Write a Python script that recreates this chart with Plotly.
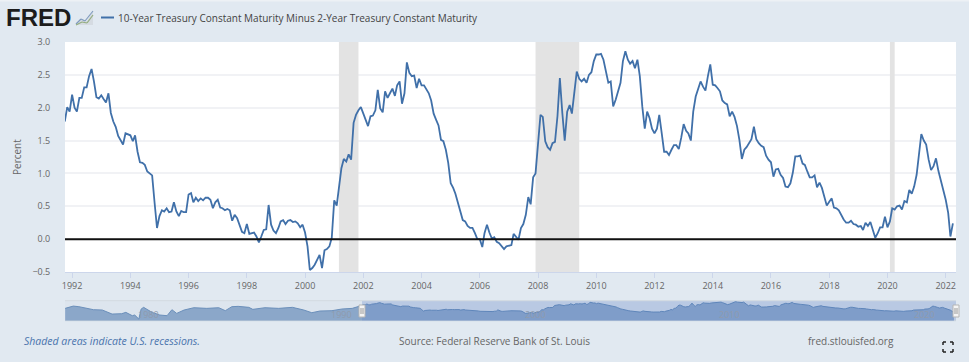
import pandas as pd
import plotly.graph_objects as go

W, H = 969, 362
SPREAD = [
1.79,2.01,1.94,2.20,2.00,1.94,2.15,2.15,2.31,2.31,2.48,2.59,2.40,2.16,2.14,2.19,2.13,2.08,2.22,1.92,
1.79,1.71,1.57,1.51,1.44,1.61,1.59,1.58,1.49,1.58,1.33,1.17,1.16,1.13,1.03,1.00,0.97,0.55,0.17,0.35,
0.44,0.42,0.47,0.41,0.42,0.56,0.42,0.35,0.43,0.41,0.41,0.68,0.70,0.56,0.63,0.58,0.62,0.59,0.63,0.63,
0.60,0.47,0.56,0.60,0.48,0.47,0.44,0.46,0.44,0.28,0.37,0.32,0.21,0.11,0.09,0.23,0.08,0.09,0.10,0.04,
-0.05,0.04,0.14,0.15,0.52,0.22,0.13,0.09,0.17,0.27,0.29,0.23,0.28,0.29,0.26,0.27,0.24,0.18,0.22,0.10,
-0.11,-0.47,-0.44,-0.39,-0.32,-0.24,-0.44,-0.17,-0.15,-0.11,0.02,0.59,0.51,0.80,1.08,1.22,1.18,1.29,
1.21,1.77,1.89,1.96,2.01,1.91,1.82,1.72,1.87,1.88,1.96,2.27,1.99,1.93,2.25,2.15,2.22,2.29,2.18,2.34,
2.40,2.06,2.22,2.69,2.53,2.48,2.49,2.30,2.44,2.34,2.34,2.27,2.22,2.11,1.91,1.82,1.73,1.51,1.49,1.36,
1.16,0.85,0.78,0.69,0.54,0.40,0.29,0.27,0.20,0.17,0.17,0.09,0.00,0.00,-0.12,0.09,0.22,0.10,0.01,0.03,
-0.04,-0.06,-0.10,-0.15,-0.11,-0.10,-0.09,0.08,0.04,-0.01,0.17,0.23,0.37,0.64,0.53,0.94,1.00,1.51,1.89,
1.86,1.49,1.40,1.36,1.46,1.48,1.87,2.45,1.92,1.50,1.94,2.04,1.91,2.27,2.55,2.44,2.40,2.44,2.38,2.50,
2.54,2.71,2.81,2.81,2.82,2.73,2.58,2.38,2.40,2.02,2.12,2.27,2.38,2.71,2.86,2.73,2.67,2.71,2.60,2.73,
2.48,2.02,1.68,1.94,1.84,1.68,1.61,1.68,1.89,1.61,1.33,1.33,1.28,1.36,1.43,1.43,1.37,1.54,1.75,1.65,
1.61,1.50,1.94,2.17,2.30,2.40,2.32,2.26,2.48,2.66,2.35,2.34,2.30,2.25,2.11,2.07,2.05,1.87,1.94,1.86,
1.72,1.51,1.22,1.36,1.40,1.47,1.52,1.71,1.52,1.46,1.42,1.40,1.27,1.21,1.17,0.95,1.06,1.07,0.98,0.93,
0.80,0.79,0.85,1.01,1.26,1.26,1.27,1.15,1.13,1.03,0.94,0.94,0.97,0.79,0.86,0.78,0.65,0.51,0.57,0.62,
0.48,0.47,0.44,0.36,0.30,0.25,0.25,0.28,0.23,0.22,0.19,0.20,0.14,0.25,0.20,0.26,0.14,0.02,0.09,0.18,
0.18,0.34,0.18,0.27,0.47,0.45,0.50,0.51,0.45,0.58,0.56,0.75,0.69,0.80,0.98,1.28,1.60,1.50,1.44,1.21,
1.05,1.11,1.23,1.04,0.90,0.78,0.60,0.40,0.04,0.24,
]
DATES = pd.date_range("1991-10-01", periods=len(SPREAD), freq="MS")

EARLY_DATES = ["1976-06-15","1976-11-15","1977-03-01","1977-08-15","1977-12-01","1978-05-15","1978-11-15","1979-05-15",
"1979-08-01","1979-12-01","1980-01-15","1980-04-01","1980-05-15","1980-07-01","1980-09-15","1980-11-15","1981-01-01",
"1981-05-01","1981-09-15","1981-12-15","1982-03-15","1982-08-01","1983-02-01","1983-10-01","1984-05-15","1984-07-01",
"1984-09-15","1985-01-15","1985-05-15","1985-12-01","1986-02-15","1986-10-01","1987-06-15","1988-03-01","1988-10-01",
"1989-03-01","1989-08-01","1990-03-15","1990-09-15","1991-04-01","1991-10-01"]
EARLY_SPREAD = [0.95,1.60,1.43,0.95,0.57,0.48,-0.67,-0.57,-0.19,-1.14,-0.95,-2.10,0.76,1.24,0.48,0.00,-0.30,-0.95,-1.14,
0.57,-0.48,0.48,1.14,0.95,1.14,0.76,0.29,1.43,1.52,1.24,0.67,1.14,0.95,1.24,0.48,-0.29,0.19,0.29,0.76,0.95,1.79]

REC_STARTS = ["2001-03-01","2007-12-01","2020-02-01"]
REC_ENDS = ["2001-11-01","2009-06-01","2020-04-01"]
NAV_YEARS = ["1980","1990","2000","2010","2020"]
NAV_YEAR_POS = ["1980-10-01","1990-09-15","2000-09-15","2010-09-15","2020-09-15"]

BG = "#e1e9f1"; BLUE = "#4070a9"; TXT = "#666666"; FONT = "Open Sans"
L, R, T, B = 65, 956, 42, 272
NT, NB = 300.7, 320.7
HX = 362
NAV_Y = [-2.57, 3.14]
SEL_START, SEL_END = "1991-10-04", "2022-05-10"
NAV_START = "1976-06-12"

def px(x): return x / W
def py(y): return 1 - y / H

fig = go.Figure()
fig.add_trace(go.Scatter(x=DATES, y=SPREAD, mode="lines", line=dict(color=BLUE, width=1.8), xaxis="x", yaxis="y",
                         showlegend=False, hoverinfo="skip"))
for xs, ys, fill, ln in [(EARLY_DATES, EARLY_SPREAD, "#8ba7c9", "#6b8fba"), (DATES, SPREAD, "#7f9dc9", "#5f86ba")]:
    fig.add_trace(go.Scatter(x=[xs[0], xs[-1]], y=[NAV_Y[0], NAV_Y[0]], mode="lines", line=dict(width=0),
                             xaxis="x2", yaxis="y2", showlegend=False, hoverinfo="skip"))
    fig.add_trace(go.Scatter(x=xs, y=ys, mode="lines", line=dict(color=ln, width=1), fill="tonexty", fillcolor=fill,
                             xaxis="x2", yaxis="y2", showlegend=False, hoverinfo="skip"))

shapes = []
def rect(x0, y0, x1, y1, color, layer="below", line=None):
    shapes.append(dict(type="rect", xref="paper", yref="paper", x0=px(x0), x1=px(x1), y0=py(y0), y1=py(y1),
                       fillcolor=color, line=dict(width=line[1], color=line[0]) if line else dict(width=0), layer=layer))
def seg(x0, y0, x1, y1, color, width=1, layer="above"):
    shapes.append(dict(type="line", xref="paper", yref="paper", x0=px(x0), x1=px(x1), y0=py(y0), y1=py(y1),
                       line=dict(color=color, width=width), layer=layer))

rect(0, 0, W, 1.5, "#edf1f5")
rect(L, T, R, B, "#ffffff")
rect(L, NT, HX, NB, "#dde5ee")
rect(HX, NT, R, NB, "#b9c9e3")
seg(L, NT, R, NT, "#d3d9e0", 1, "below")
seg(L, NB, R, NB, "#c9d2dc", 1, "below")

for s, e in zip(REC_STARTS, REC_ENDS):
    shapes.append(dict(type="rect", xref="x", yref="y", x0=s, x1=e, y0=-0.5, y1=3.0, fillcolor="#e3e3e3",
                       line=dict(width=0), layer="between"))
shapes.append(dict(type="line", xref="x domain", yref="y", x0=0, x1=1, y0=0, y1=0,
                   line=dict(color="#111111", width=2), layer="above"))
for hx in (HX, R):
    rect(hx - 3, 305, hx + 3, 317, "#f4f4f4", "above", ("#b5b5b5", 1))
    seg(hx - 1, 308, hx - 1, 314, "#9a9a9a")
    seg(hx + 1, 308, hx + 1, 314, "#9a9a9a")
seg(101, 17.5, 114, 17.5, BLUE, 2)
shapes.append(dict(type="path", xref="paper", yref="paper", layer="above", line=dict(width=0), fillcolor="#d5dbe2",
                   path="M %f %f L %f %f L %f %f L %f %f L %f %f Z" % (px(76), py(25), px(82), py(19), px(87), py(21),
                                                                     px(93), py(11), px(93), py(25))))
for pts, col in [([(76, 24), (81, 19), (85, 21), (93, 11)], "#7f9bbd"), ([(76, 25), (82, 22), (87, 23), (93, 15)], "#93ad7f")]:
    for a, b in zip(pts, pts[1:]):
        seg(a[0], a[1], b[0], b[1], col, 1.2)
x0, x1, y0, y1, a = 943, 953, 342, 352, 3
for cx, cy, dx, dy in [(x0, y0, 1, 1), (x1, y0, -1, 1), (x0, y1, 1, -1), (x1, y1, -1, -1)]:
    seg(cx, cy, cx + dx * a, cy, "#222222", 1.5)
    seg(cx, cy, cx, cy + dy * a, "#222222", 1.5)

ann = []
def text(x, y, s, size, color=TXT, anchor="left", family=FONT, angle=0):
    ann.append(dict(xref="paper", yref="paper", x=px(x), y=py(y), text=s, showarrow=False, xanchor=anchor,
                    yanchor="middle", font=dict(size=size, color=color, family=family), textangle=angle,
                    borderpad=0))
text(5, 18, "<b>FRED</b>", 24, "#1c1c1c", family="Liberation Sans")
text(117, 17.5, "10-Year Treasury Constant Maturity Minus 2-Year Treasury Constant Maturity", 10, "#444444")
text(17, 157, "Percent", 10, TXT, "center", angle=-90)
text(23, 341, "<i>Shaded areas indicate U.S. recessions.</i>", 10.5, "#4a74ad")
text(398, 341, "Source: Federal Reserve Bank of St. Louis", 10, TXT)
text(807, 341, "fred.stlouisfed.org", 10, TXT)
for lab, d in zip(NAV_YEARS, NAV_YEAR_POS):
    ann.append(dict(xref="x2", yref="paper", x=d, y=py(314), text=lab, showarrow=False, yanchor="middle",
                    font=dict(size=9, color="#8f9bad", family=FONT)))

fig.update_layout(
    width=W, height=H, autosize=False, margin=dict(l=0, r=0, t=0, b=0, pad=0),
    paper_bgcolor=BG, plot_bgcolor="rgba(0,0,0,0)", shapes=shapes, annotations=ann, showlegend=False,
    font=dict(family=FONT, size=9, color=TXT),
    xaxis=dict(domain=[px(L), px(R)], range=[SEL_START, SEL_END], type="date", tick0="1992-01-01", dtick="M24",
               tickformat="%Y", ticks="outside", ticklen=5, tickcolor="#ccd6eb", showgrid=False, showline=True,
               linecolor="#ccd6eb", linewidth=1, zeroline=False, anchor="y", tickfont=dict(size=9, color=TXT),
               automargin=False),
    yaxis=dict(domain=[py(B), py(T)], range=[-0.5, 3.0], tick0=-0.5, dtick=0.5, tickformat=".1f", showgrid=True,
               gridcolor="#f1f2f5", gridwidth=1.5, zeroline=False, ticks="outside", ticklen=12, tickcolor="rgba(0,0,0,0)",
               anchor="x", tickfont=dict(size=9, color=TXT), showline=False, automargin=False),
    xaxis2=dict(domain=[px(L), px(R)], range=[NAV_START, SEL_END], type="date", visible=False, anchor="y2", automargin=False),
    yaxis2=dict(domain=[py(NB), py(NT)], range=NAV_Y, visible=False, anchor="x2", automargin=False),
)
fig.write_html("out.html", config=dict(displayModeBar=False),
               post_script="document.body.style.margin='0';document.body.style.overflow='hidden';")
